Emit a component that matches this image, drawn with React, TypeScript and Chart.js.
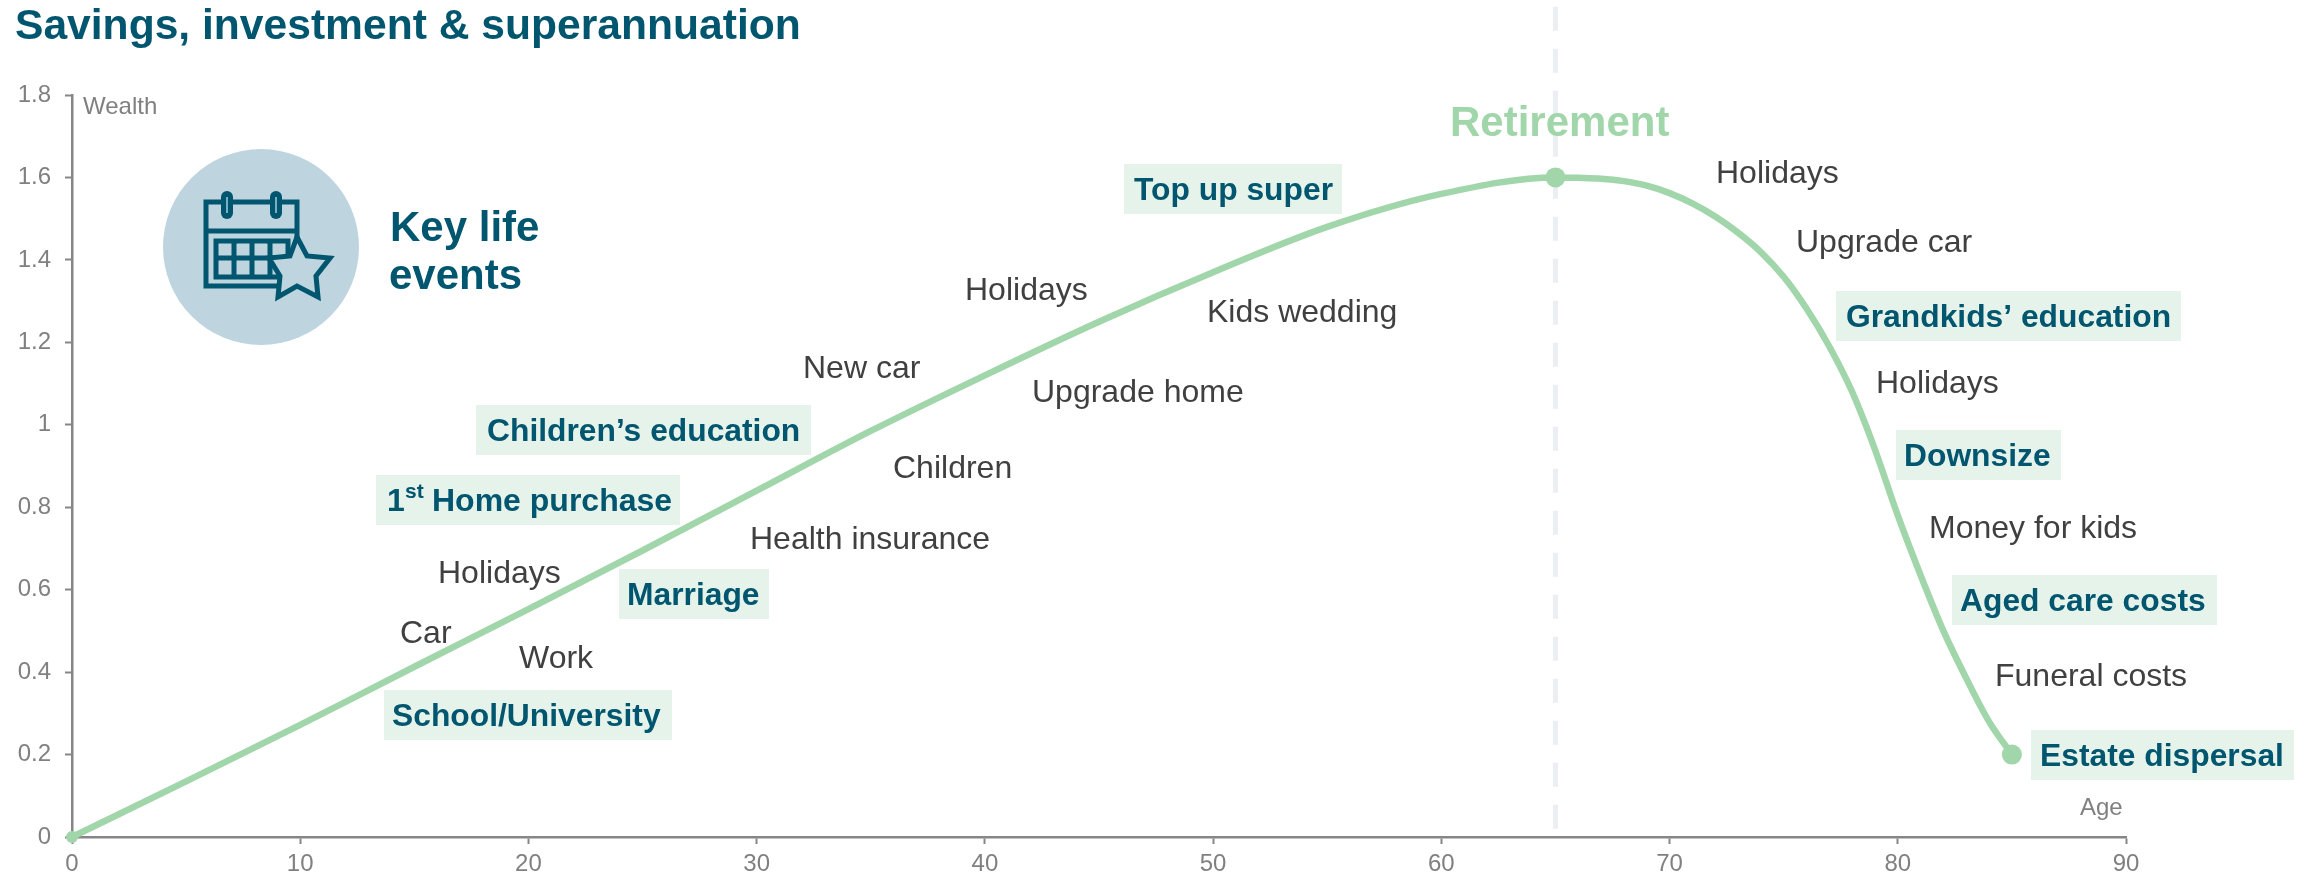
import React, { useEffect, useRef } from "react";
import { Chart, registerables } from "chart.js";

Chart.register(...registerables);

// ---- data ----
const ages = [0, 5, 10, 15, 20, 25, 30, 35, 40, 45, 50, 55, 60, 65, 66, 67, 68, 69, 70, 71, 72, 73, 74, 75, 76, 77, 78, 79, 80, 81, 82, 83, 84, 85];
const wealth = [0, 0.135, 0.272, 0.413, 0.553, 0.695, 0.84, 0.985, 1.12, 1.25, 1.37, 1.48, 1.56, 1.6, 1.599, 1.597, 1.591, 1.58, 1.562, 1.537, 1.505, 1.466, 1.419, 1.359, 1.282, 1.19, 1.08, 0.94, 0.78, 0.635, 0.5, 0.385, 0.28, 0.2];
const markedAges = [0, 65, 85];
const retirementAge = [65, 65];
const retirementLine = [2.014, 0];
const xTickLabels = ["0", "10", "20", "30", "40", "50", "60", "70", "80", "90"];
const yTickLabels = ["0", "0.2", "0.4", "0.6", "0.8", "1", "1.2", "1.4", "1.6", "1.8"];

const plainEvents = ["Car", "Holidays", "Work", "Health insurance", "Children", "New car", "Upgrade home", "Holidays", "Kids wedding", "Holidays", "Upgrade car", "Holidays", "Money for kids", "Funeral costs"];
const plainEventX = [400, 438, 519, 750, 893, 803, 1032, 965, 1207, 1716, 1796, 1876, 1929, 1995];
const plainEventY = [634, 574, 659, 540, 469, 369, 393, 291, 313, 174, 243, 384, 529, 677];

const keyEvents = ["School/University", "Marriage", "Home purchase", "Children\u2019s education", "Top up super", "Grandkids\u2019 education", "Downsize", "Aged care costs", "Estate dispersal"];
const keyEventX = [392, 627, 0, 487, 1134, 1846, 1904, 1960, 2040];
const keyEventY = [715, 594, 500, 430, 189, 316, 455, 600, 755];
const keyBoxLeft = [384, 619, 376, 476, 1124, 1836, 1896, 1952, 2031];
const keyBoxRight = [672, 769, 680, 811, 1342, 2181, 2061, 2217, 2294];

const NAVY = "#00566f";
const GREEN = "#a1d5aa";
const PALE = "#e6f3ea";
const GREY_TEXT = "#808080";
const DARK_TEXT = "#404040";
const AXIS = "#868686";
const FONT = '"Liberation Sans", Arial, sans-serif';

function drawIcon(ctx: CanvasRenderingContext2D) {
  ctx.save();
  ctx.fillStyle = "#bed4de";
  ctx.beginPath();
  ctx.arc(261, 247, 98, 0, Math.PI * 2);
  ctx.fill();

  ctx.strokeStyle = NAVY;
  ctx.lineWidth = 5;
  ctx.strokeRect(206, 202, 91, 84);
  ctx.beginPath();
  ctx.moveTo(204, 231);
  ctx.lineTo(299, 231);
  ctx.stroke();

  // inner grid
  ctx.lineWidth = 5;
  ctx.strokeRect(216, 241, 72, 36);
  ctx.beginPath();
  for (const gx of [234, 252, 270]) {
    ctx.moveTo(gx, 241);
    ctx.lineTo(gx, 277);
  }
  ctx.moveTo(216, 258);
  ctx.lineTo(288, 258);
  ctx.stroke();

  // rings
  for (const rx of [227, 276]) {
    ctx.fillStyle = NAVY;
    ctx.beginPath();
    ctx.roundRect(rx - 6, 191, 12, 28, 6);
    ctx.fill();
    ctx.fillStyle = "#a8d8e6";
    ctx.fillRect(rx - 0.7, 197, 1.4, 16);
  }

  // star
  const star = [[297, 237], [307, 256], [330, 258], [316, 276], [318, 297], [297, 286], [278, 297], [280, 276], [269, 258], [290, 256]];
  ctx.beginPath();
  star.forEach(([sx, sy], i) => (i ? ctx.lineTo(sx, sy) : ctx.moveTo(sx, sy)));
  ctx.closePath();
  ctx.fillStyle = "#bed4de";
  ctx.fill();
  ctx.lineWidth = 5;
  ctx.strokeStyle = NAVY;
  ctx.lineJoin = "miter";
  ctx.stroke();
  ctx.restore();
}

const annotations = {
  id: "annotations",
  afterDatasetsDraw(chart: Chart) {
    const ctx = chart.ctx;
    ctx.save();
    ctx.textAlign = "left";
    ctx.textBaseline = "middle";

    const text = (s: string, x: number, y: number, size: number, color: string, bold = false) => {
      ctx.font = `${bold ? "bold " : ""}${size}px ${FONT}`;
      ctx.fillStyle = color;
      ctx.fillText(s, x, y);
    };

    text("Savings, investment & superannuation", 15, 27, 42.6, NAVY, true);
    drawIcon(ctx);
    text("Key life", 390, 229, 42, NAVY, true);
    text("events", 389, 277, 42, NAVY, true);
    text("Wealth", 83, 107, 24, GREY_TEXT);
    text("Age", 2080, 808, 24, GREY_TEXT);
    text("Retirement", 1450, 124, 42, GREEN, true);

    plainEvents.forEach((s, i) => text(s, plainEventX[i], plainEventY[i], 32, DARK_TEXT));

    keyEvents.forEach((s, i) => {
      ctx.fillStyle = PALE;
      ctx.fillRect(keyBoxLeft[i], keyEventY[i] - 25, keyBoxRight[i] - keyBoxLeft[i], 50);
      if (s === "Home purchase") {
        text("1", 387, 502, 32, NAVY, true);
        text("st", 405, 492, 21, NAVY, true);
        text(s, 432, 502, 32, NAVY, true);
      } else {
        text(s, keyEventX[i], keyEventY[i] + 2, 31.8, NAVY, true);
      }
    });
    ctx.restore();
  },
};

export default function App() {
  const ref = useRef<HTMLCanvasElement>(null);

  useEffect(() => {
    document.body.style.margin = "0";
    const chart = new Chart(ref.current!, {
      type: "line",
      data: {
        datasets: [
          {
            label: "Wealth",
            data: ages.map((x, i) => ({ x, y: wealth[i] })),
            borderColor: GREEN,
            backgroundColor: GREEN,
            borderWidth: 6.5,
            cubicInterpolationMode: "monotone",
            clip: false,
            pointRadius: ages.map((a) => (markedAges.includes(a) ? (a === 0 ? 6 : 10) : 0)),
            pointBorderWidth: 0,
            order: 1,
          },
          {
            label: "Retirement",
            data: retirementAge.map((x, i) => ({ x, y: retirementLine[i] })),
            borderColor: "#ebeef2",
            borderWidth: 5,
            borderDash: [24, 18],
            pointRadius: 0,
            clip: false,
            order: 2,
          },
        ],
      },
      options: {
        responsive: false,
        animation: false,
        layout: { padding: { left: 0, top: 95, right: 192, bottom: 0 } },
        plugins: { legend: { display: false }, tooltip: { enabled: false } },
        scales: {
          x: {
            type: "linear",
            min: 0,
            max: 90,
            afterFit(scale: any) {
              scale.height = 42;
            },
            grid: { drawOnChartArea: false, drawTicks: true, tickLength: 7, tickColor: AXIS, tickWidth: 2 },
            border: { color: AXIS, width: 2.5 },
            ticks: {
              stepSize: 10,
              maxRotation: 0,
              color: GREY_TEXT,
              padding: 6,
              font: { family: FONT, size: 24 },
              callback: (_v: any, i: number) => xTickLabels[i],
            },
          },
          y: {
            type: "linear",
            min: 0,
            max: 1.8,
            afterFit(scale: any) {
              scale.width = 72;
            },
            grid: { drawOnChartArea: false, drawTicks: true, tickLength: 7, tickColor: AXIS, tickWidth: 2 },
            border: { color: AXIS, width: 2.5 },
            ticks: {
              stepSize: 0.2,
              color: GREY_TEXT,
              padding: 14,
              font: { family: FONT, size: 24 },
              callback: (_v: any, i: number) => yTickLabels[i],
            },
          },
        },
      },
      plugins: [annotations],
    } as any);
    return () => chart.destroy();
  }, []);

  return (
    <div style={{ position: "absolute", left: 0, top: 0, width: 2318, height: 879, background: "#fff" }}>
      <canvas ref={ref} width={2318} height={879} style={{ display: "block" }} />
    </div>
  );
}
